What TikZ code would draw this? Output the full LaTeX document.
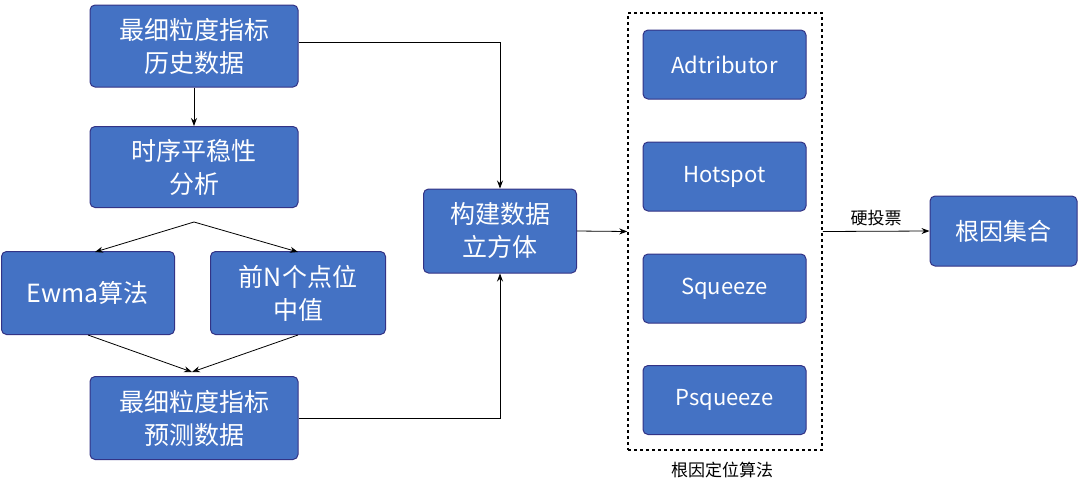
\documentclass[tikz,border=0pt]{standalone}
\usepackage{fontspec}
\setmainfont{Noto Sans CJK SC}
\usetikzlibrary{arrows.meta}
\begin{document}
\begin{tikzpicture}[x=1pt,y=-1pt,
 bx/.style={draw=blue!40!black!80,line width=1pt,fill={rgb,255:red,68;green,114;blue,196},rounded corners=5pt,text=white,font=\fontsize{25}{33}\selectfont,align=center,inner sep=0pt},
 sm/.style={bx,font=\fontsize{22}{28}\selectfont},
 ar/.style={-{Stealth[length=8pt,width=6pt]},line width=0.8pt}]
\useasboundingbox (0,0) rectangle (1080,499);
\node[bx,minimum width=208pt,minimum height=82pt] (b1) at (194,46) {最细粒度指标\\历史数据};
\node[bx,minimum width=208pt,minimum height=81pt] (b2) at (194,167) {时序平稳性\\分析};
\node[bx,minimum width=173pt,minimum height=83pt] (b3) at (88,293) {Ewma算法};
\node[bx,minimum width=175pt,minimum height=83pt] (b4) at (298,293) {前N个点位\\中值};
\node[bx,minimum width=208pt,minimum height=83pt] (b5) at (194,418) {最细粒度指标\\预测数据};
\node[bx,minimum width=153pt,minimum height=84pt] (b6) at (500,231) {构建数据\\立方体};
\node[draw,dashed,line width=1.5pt,minimum width=194pt,minimum height=437pt,inner sep=0pt] (d) at (725,231.5) {};
\node[sm,minimum width=163pt,minimum height=69pt] (a1) at (724.5,64.5) {Adtributor};
\node[sm,minimum width=163pt,minimum height=69pt] (a2) at (724.5,176.5) {Hotspot};
\node[sm,minimum width=163pt,minimum height=69pt] (a3) at (724.5,288.5) {Squeeze};
\node[sm,minimum width=163pt,minimum height=69pt] (a4) at (724.5,400) {Psqueeze};
\node[font=\fontsize{17}{20}\selectfont] (lab) at (722,470) {根因定位算法};
\node[sm,font=\fontsize{24}{30}\selectfont,minimum width=147pt,minimum height=70pt] (b7) at (1003.5,231) {根因集合};
\coordinate (s) at (194,222);
\coordinate (m) at (192,372);
\draw[ar] (b1.south) -- (b2.north);
\draw[ar] (s) -- (95,252);
\draw[ar] (s) -- (298,252);
\draw[ar] (b3.south) -- (m);
\draw[ar] (b4.south) -- (m);
\draw[ar] (b1.east |- 0,42) -| (b6.north);
\draw[ar] (b5.east) -| (b6.south);
\draw[ar] (b6.east) -- (d.west);
\draw[ar] (d.east) -- node[above,font=\fontsize{17}{20}\selectfont,yshift=2pt]{硬投票} (b7.west);
\end{tikzpicture}
\end{document}
